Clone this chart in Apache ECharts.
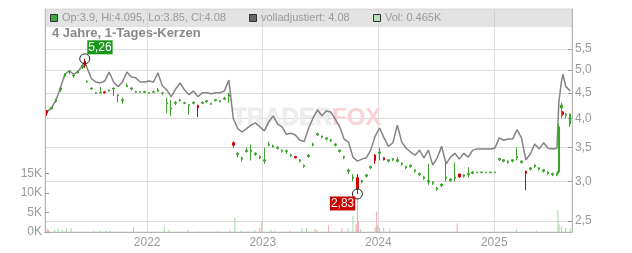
<!DOCTYPE html>
<html><head><meta charset="utf-8">
<script src="https://cdn.jsdelivr.net/npm/echarts@6/dist/echarts.min.js"></script>
<style>html,body{margin:0;padding:0;background:#fff}#c{width:632px;height:253px}</style>
</head><body><div id="c"></div>
<script>
const dates = ['2021-02-19','2021-03-05','2021-03-19','2021-04-02','2021-04-16','2021-04-30','2021-05-14','2021-05-28','2021-06-11','2021-06-18','2021-06-25','2021-07-09','2021-07-23','2021-08-06','2021-08-20','2021-09-03','2021-09-17','2021-10-01','2021-10-15','2021-10-29','2021-11-12','2021-11-26','2021-12-10','2021-12-24',
'2022-01-07','2022-01-21','2022-02-04','2022-02-18','2022-03-04','2022-03-18','2022-04-01','2022-04-15','2022-04-29','2022-05-13','2022-05-27','2022-06-10','2022-06-24','2022-07-08','2022-07-22','2022-08-05','2022-08-19','2022-09-02','2022-09-16','2022-09-30','2022-10-14','2022-10-28','2022-11-11','2022-11-25','2022-12-09','2022-12-23',
'2023-01-06','2023-01-20','2023-02-03','2023-02-17','2023-03-03','2023-03-17','2023-03-31','2023-04-14','2023-04-28','2023-05-12','2023-05-26','2023-06-09','2023-06-23','2023-07-07','2023-07-21','2023-08-04','2023-08-18','2023-09-01','2023-09-15','2023-09-29','2023-10-13','2023-10-27','2023-11-10','2023-11-24','2023-12-08','2023-12-22',
'2024-01-05','2024-01-19','2024-02-02','2024-02-16','2024-03-01','2024-03-15','2024-03-29','2024-04-12','2024-04-26','2024-05-10','2024-05-24','2024-06-07','2024-06-21','2024-07-05','2024-07-19','2024-08-02','2024-08-16','2024-08-30','2024-09-13','2024-09-27','2024-10-11','2024-10-25','2024-11-08','2024-11-22','2024-12-06','2024-12-20',
'2025-01-03','2025-01-17','2025-01-31','2025-02-14','2025-02-28','2025-03-14','2025-03-28','2025-04-11','2025-04-25','2025-05-09','2025-05-23','2025-06-06','2025-06-20','2025-07-04','2025-07-18','2025-07-22','2025-07-24','2025-08-01','2025-08-06','2025-08-15','2025-08-29'];

const adjusted = [4.12,4.20,4.35,4.60,4.90,4.98,4.90,4.97,5.10,5.20,5.05,4.80,4.73,4.71,4.75,4.95,4.73,4.63,4.73,4.95,4.84,4.82,4.73,4.73,
4.75,4.73,4.93,4.65,4.56,4.42,4.58,4.71,4.56,4.46,4.54,4.42,4.50,4.50,4.48,4.50,4.50,4.54,4.77,4.00,3.82,3.76,3.82,3.88,3.92,3.85,
3.78,3.94,4.05,3.90,3.85,3.72,3.74,3.71,3.62,3.60,3.83,4.01,4.16,4.05,4.14,4.12,3.99,3.85,3.64,3.59,3.35,3.29,3.32,3.34,3.46,3.69,
3.83,3.66,3.52,3.58,3.88,3.59,3.49,3.43,3.38,3.46,3.34,3.46,3.23,3.34,3.52,3.25,3.35,3.41,3.32,3.41,3.35,3.46,3.48,3.48,3.48,3.48,
3.49,3.66,3.62,3.64,3.64,3.80,3.66,3.31,3.40,3.56,3.48,3.58,3.49,3.48,3.49,3.48,4.30,4.73,4.90,4.63,4.54];

const openP = [4.15,4.18,4.33,4.56,4.86,4.95,4.86,4.93,5.06,5.20,4.73,4.58,4.49,4.50,4.52,4.54,4.58,4.44,4.34,4.63,4.58,4.51,4.51,4.51,
4.49,4.51,4.53,4.49,4.28,4.18,4.29,4.34,4.29,4.24,4.29,4.25,4.29,4.32,4.27,4.34,4.32,4.37,4.43,3.58,3.39,3.32,3.44,3.44,3.39,3.34,
3.29,3.54,3.51,3.49,3.44,3.44,3.37,3.36,3.29,3.21,3.36,3.54,3.71,3.67,3.64,3.61,3.54,3.44,3.34,3.14,3.04,3.05,2.99,3.07,3.19,3.38,
3.41,3.34,3.29,3.31,3.29,3.24,3.19,3.21,3.14,3.09,3.04,2.99,2.97,2.89,2.94,3.04,3.01,3.04,3.10,3.07,3.09,3.11,3.12,3.12,3.12,3.12,
3.12,3.31,3.29,3.27,3.29,3.34,3.27,3.14,3.17,3.21,3.17,3.14,3.11,3.09,3.09,3.11,3.13,4.20,4.12,4.06,3.90];
const closeP = [4.10,4.21,4.36,4.60,4.90,4.97,4.88,4.96,5.10,5.10,4.75,4.60,4.50,4.51,4.50,4.56,4.60,4.46,4.36,4.66,4.60,4.53,4.52,4.53,
4.50,4.52,4.56,4.50,4.30,4.20,4.31,4.36,4.30,4.26,4.31,4.20,4.31,4.34,4.29,4.36,4.34,4.39,4.46,3.54,3.41,3.34,3.46,3.46,3.41,3.36,
3.31,3.56,3.53,3.51,3.46,3.45,3.39,3.34,3.31,3.23,3.38,3.56,3.73,3.69,3.66,3.63,3.56,3.46,3.36,3.16,3.06,2.90,3.01,3.09,3.21,3.30,
3.43,3.31,3.31,3.33,3.31,3.26,3.21,3.23,3.16,3.11,3.06,3.01,2.99,2.91,2.96,3.06,3.03,3.06,3.06,3.09,3.11,3.13,3.13,3.13,3.13,3.13,
3.13,3.33,3.31,3.29,3.31,3.36,3.29,3.11,3.19,3.23,3.19,3.16,3.13,3.11,3.11,3.13,3.85,4.25,4.08,4.08,4.08];
const lowP = [4.05,4.17,4.30,4.52,4.84,4.90,4.82,4.92,5.02,5.05,4.72,4.57,4.48,4.49,4.49,4.53,4.44,4.30,4.28,4.62,4.55,4.50,4.50,4.50,
4.48,4.50,4.52,4.45,4.10,4.05,4.25,4.32,4.27,4.07,4.27,4.03,4.28,4.30,4.26,4.33,4.31,4.36,4.30,3.50,3.35,3.28,3.42,3.30,3.37,3.32,
3.25,3.52,3.50,3.47,3.42,3.40,3.35,3.33,3.27,3.19,3.34,3.52,3.69,3.65,3.62,3.59,3.52,3.42,3.32,3.10,3.00,2.83,2.97,3.05,3.17,3.25,
3.30,3.30,3.27,3.29,3.27,3.22,3.17,3.19,3.12,3.07,3.02,2.95,2.95,2.87,2.92,3.00,2.99,3.00,3.05,3.05,3.05,3.10,3.12,3.12,3.12,3.12,
3.12,3.29,3.27,3.25,3.27,3.30,3.25,2.88,3.15,3.19,3.15,3.12,3.09,3.07,3.07,3.10,3.12,4.00,4.05,4.00,3.85];
const highP = [4.16,4.22,4.38,4.62,4.92,4.99,4.90,4.98,5.12,5.26,4.76,4.61,4.51,4.62,4.53,4.57,4.61,4.47,4.40,4.70,4.62,4.54,4.53,4.54,
4.51,4.55,4.60,4.52,4.40,4.35,4.33,4.38,4.32,4.27,4.33,4.26,4.33,4.35,4.30,4.38,4.35,4.42,4.50,3.60,3.43,3.36,3.50,3.55,3.43,3.38,
3.50,3.60,3.55,3.52,3.47,3.47,3.40,3.37,3.32,3.24,3.40,3.58,3.75,3.70,3.67,3.64,3.57,3.47,3.37,3.18,3.10,3.10,3.02,3.10,3.22,3.40,
3.50,3.35,3.32,3.34,3.35,3.27,3.22,3.24,3.17,3.12,3.07,3.25,3.00,2.92,2.97,3.27,3.04,3.27,3.11,3.10,3.20,3.14,3.13,3.13,3.13,3.13,
3.13,3.34,3.32,3.30,3.32,3.50,3.30,3.15,3.20,3.24,3.20,3.17,3.14,3.12,3.12,3.14,3.90,4.30,4.14,4.10,4.095];

const volDates = ['2021-02-19','2021-02-24','2021-03-15','2021-03-26','2021-04-08','2021-04-21','2021-05-06','2021-07-16','2021-08-06','2021-08-25','2021-09-06','2021-11-19','2022-02-24','2022-03-11','2022-05-10','2022-06-10','2022-08-12','2022-09-20','2022-10-05','2022-10-24','2022-12-07','2022-12-23','2022-12-29','2023-01-27','2023-02-08','2023-03-28','2023-05-05','2023-05-19','2023-06-15','2023-06-21','2023-07-28','2023-09-08','2023-09-27','2023-10-13','2023-10-23','2023-10-27','2023-10-30','2023-11-06','2023-12-22','2023-12-27','2023-12-29','2024-01-05','2024-01-18','2024-02-06','2024-09-06','2025-03-12','2025-05-14','2025-07-21','2025-07-25','2025-08-01','2025-08-14','2025-08-29'];
const volValues = [900,500,500,800,600,900,1000,300,400,400,300,1200,1400,600,600,200,300,400,3700,400,600,1000,2800,600,300,300,1000,1000,800,500,1700,1000,1000,4100,2000,8600,2600,700,1200,5200,1600,1000,1100,800,2200,700,400,5700,2000,1400,1000,1000];
const volUp = [0,0,1,1,1,1,1,1,1,1,1,1,1,1,0,1,1,0,1,1,1,0,1,1,1,0,1,1,1,0,0,0,1,1,0,0,0,1,0,0,0,1,1,1,0,1,1,1,1,1,1,1];

const priceTicks = [2.5, 3, 3.5, 4, 4.5, 5, 5.5];
const volTicks = [0, 5000, 10000, 15000];

const FONT = 'Liberation Sans, Arial, sans-serif';
const YEAR = 365 * 24 * 3600 * 1000;
const UP = '#3aa52a', DOWN = '#d40000';
const candleData = dates.map((d, i) => {
  const c = closeP[i] < openP[i] ? DOWN : UP;
  return { value: [d, openP[i], closeP[i], lowP[i], highP[i]],
    itemStyle: { color: c, color0: c, borderColor: c, borderColor0: c, borderColorDoji: c } };
});
const lineData = dates.map((d, i) => [d, adjusted[i]]);
const volData = volDates.map((d, i) => ({
  value: [d, volValues[i]],
  itemStyle: { color: volUp[i] ? '#a3d9a3' : '#f2a4ab' }
}));

const chart = echarts.init(document.getElementById('c'), null, { renderer: 'canvas' });
chart.setOption({
  animation: false,
  backgroundColor: '#fff',
  grid: { left: 45, right: 60, top: 9, bottom: 21, show: true, borderColor: '#dcdcdc', borderWidth: 1 },
  xAxis: {
    type: 'time', min: '2021-02-14', max: '2025-09-02',
    minInterval: YEAR, maxInterval: YEAR * 1.01,
    axisLine: { show: true, lineStyle: { color: '#b4b4b4' } },
    axisTick: { show: false },
    axisLabel: { color: '#999', fontSize: 12, fontFamily: FONT, margin: 5,
      formatter: v => String(new Date(v).getFullYear()) },
    splitLine: { show: true, lineStyle: { color: '#dcdcdc', width: 1 } }
  },
  yAxis: [
    {
      type: 'log', position: 'right', min: 2.377, max: 6.61,
      axisLine: { show: true, lineStyle: { color: '#b4b4b4' } },
      axisTick: { show: true, inside: true, length: 4, customValues: priceTicks, lineStyle: { color: '#999' } },
      axisLabel: { customValues: priceTicks, color: '#999', fontSize: 12, fontFamily: FONT, margin: 3,
        formatter: v => v.toFixed(1).replace('.', ',') },
      splitLine: { show: true, lineStyle: { color: '#dcdcdc', width: 1 } }
    },
    {
      type: 'value', position: 'left', min: 0, max: 56900,
      axisLine: { show: true, lineStyle: { color: '#b4b4b4' } },
      axisTick: { show: true, inside: true, length: 4, customValues: volTicks, lineStyle: { color: '#999' } },
      axisLabel: { customValues: volTicks, color: '#999', fontSize: 12, fontFamily: FONT, margin: 3,
        formatter: v => (v / 1000) + 'K' },
      splitLine: { show: false }
    }
  ],
  series: [
    {
      name: 'Vol', type: 'bar', yAxisIndex: 1, barWidth: 1, data: volData, z: 1
    },
    {
      name: 'volladjustiert', type: 'line', yAxisIndex: 0, data: lineData, showSymbol: false, z: 2,
      lineStyle: { color: 'rgba(118,118,118,0.9)', width: 1.5 }
    },
    {
      name: 'Kerzen', type: 'candlestick', yAxisIndex: 0, barWidth: 2, data: candleData, z: 3,
      itemStyle: { color: UP, color0: DOWN, borderColor: UP, borderColor0: DOWN, borderColorDoji: UP, borderWidth: 1 },
      markPoint: {
        symbol: 'circle', symbolSize: 10,
        itemStyle: { color: 'rgba(0,0,0,0)', borderColor: '#222', borderWidth: 1 },
        label: { show: true, color: '#fff', fontSize: 12, fontFamily: FONT, padding: [1, 1, 0, 1], lineHeight: 13,
          formatter: p => Number(p.value).toFixed(2).replace('.', ',') },
        data: [
          { type: 'max', valueDim: 'highest', label: { position: [8, -13], backgroundColor: '#1a961a' } },
          { type: 'min', valueDim: 'lowest', label: { position: [-22, 8], backgroundColor: '#c80000' } }
        ]
      }
    }
  ],
  graphic: [
    { type: 'text', z: 1, left: 232, top: 106, style: { text: 'TRADER', fill: '#ededed', stroke: '#e2e2e2', lineWidth: 0.5, font: 'bold 24px ' + FONT } },
    { type: 'text', z: 1, left: 332, top: 106, style: { text: 'FOX', fill: '#f9d3d7', font: 'bold 24px ' + FONT } },
    { type: 'rect', z: 10, shape: { x: 45, y: 9, width: 527, height: 18 }, style: { fill: 'rgba(200,200,200,0.5)' } },
    { type: 'rect', z: 11, shape: { x: 50.5, y: 14.5, width: 7, height: 7 }, style: { fill: '#3fa93f', stroke: '#333', lineWidth: 1 } },
    { type: 'text', z: 11, x: 62, y: 18, style: { text: 'Op:3.9, Hi:4.095, Lo:3.85, Cl:4.08', fill: '#999', font: '11px ' + FONT, verticalAlign: 'middle' } },
    { type: 'rect', z: 11, shape: { x: 249.5, y: 14.5, width: 7, height: 7 }, style: { fill: '#666', stroke: '#333', lineWidth: 1 } },
    { type: 'text', z: 11, x: 261, y: 18, style: { text: 'volladjustiert: 4.08', fill: '#999', font: '11px ' + FONT, verticalAlign: 'middle' } },
    { type: 'rect', z: 11, shape: { x: 373.5, y: 14.5, width: 7, height: 7 }, style: { fill: '#b8e0b8', stroke: '#333', lineWidth: 1 } },
    { type: 'text', z: 11, x: 385, y: 18, style: { text: 'Vol: 0.465K', fill: '#999', font: '11px ' + FONT, verticalAlign: 'middle' } },
    { type: 'text', z: 11, x: 52, y: 33, style: { text: '4 Jahre, 1-Tages-Kerzen', fill: '#888', font: 'bold 13px ' + FONT, verticalAlign: 'middle' } }
  ]
});
</script>
</body></html>
